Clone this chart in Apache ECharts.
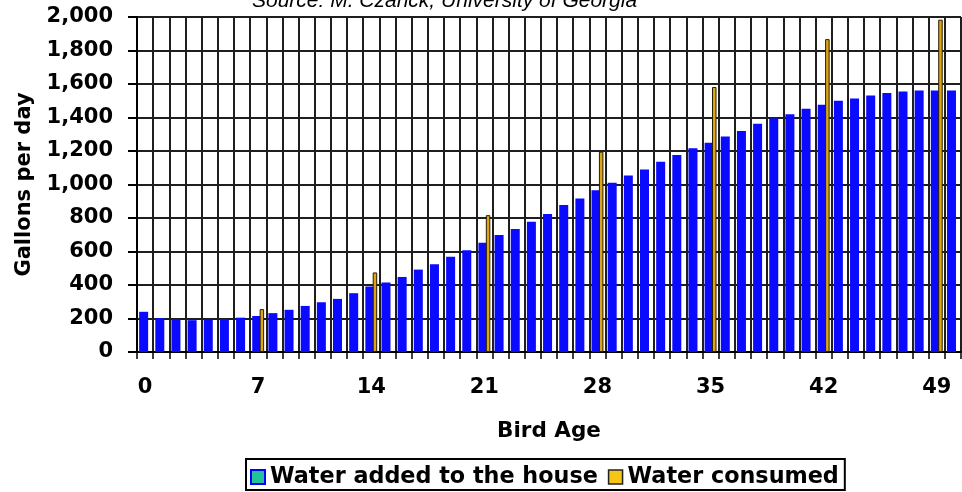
<!DOCTYPE html>
<html>
<head>
<meta charset="utf-8">
<script src="https://cdn.jsdelivr.net/npm/echarts@6/dist/echarts.min.js"></script>
<style>html,body{margin:0;padding:0;background:#fff}#c{width:962px;height:492px}</style>
</head>
<body>
<div id="c"></div>
<script>
var days = [];
for (var i = 0; i <= 50; i++) days.push(String(i));
var waterAdded = [240,202,196,190,192,196,205,215,232,252,275,297,317,351,391,415,448,492,524,568,608,652,698,734,778,824,877,917,965,1011,1054,1089,1136,1176,1216,1250,1286,1320,1362,1396,1420,1452,1476,1500,1513,1531,1547,1555,1561,1561,1561];
var consumedDays = [7,14,21,28,35,42,49];
var consumedValues = [256,475,817,1196,1582,1868,1984];
var yTicks = [0,200,400,600,800,1000,1200,1400,1600,1800,2000];

var consumed = days.map(function(){ return '-'; });
consumedDays.forEach(function(d, k){ consumed[d] = consumedValues[k]; });

var FONT = 'DejaVu Sans';
var chart = echarts.init(document.getElementById('c'));
chart.setOption({
  animation: false,
  backgroundColor: '#fff',
  title: {
    text: 'Source: M. Czarick, University of Georgia',
    left: 252, top: -9, padding: 0,
    textStyle: {fontFamily: 'Liberation Sans', fontStyle: 'italic', fontWeight: 'normal', fontSize: 21, color: '#000'}
  },
  legend: {
    left: 246, top: 459,
    padding: [7, 6, 2, 4],
    borderColor: '#000', borderWidth: 2, backgroundColor: '#fff',
    itemWidth: 14, itemHeight: 14, itemGap: 10,
    textStyle: {fontFamily: FONT, fontWeight: 'bold', fontSize: 22.3, color: '#000'},
    data: [
      {name: 'Water added to the house', icon: 'rect', itemStyle: {color: '#22c39b', borderColor: '#0000ff', borderWidth: 2}},
      {name: 'Water consumed', icon: 'rect', itemStyle: {color: '#f5c518', borderColor: '#222', borderWidth: 1.5}}
    ]
  },
  grid: {left: 137, right: 1, top: 17, bottom: 140, containLabel: false},
  xAxis: {
    type: 'category',
    data: days,
    name: 'Bird Age',
    nameLocation: 'middle',
    nameGap: 68,
    nameTextStyle: {fontFamily: FONT, fontWeight: 'bold', fontSize: 21.5, color: '#000'},
    axisLine: {show: true, lineStyle: {color: '#000', width: 2}},
    axisTick: {show: true, interval: 0, length: 7, lineStyle: {color: '#000', width: 1.5}},
    axisLabel: {interval: 6, margin: 25, fontFamily: FONT, fontWeight: 'bold', fontSize: 21, color: '#000'},
    splitLine: {show: true, interval: 0, lineStyle: {color: '#1e1e1e', width: 2}}
  },
  yAxis: {
    type: 'value',
    min: yTicks[0], max: yTicks[yTicks.length - 1], interval: 200,
    name: 'Gallons per day',
    nameLocation: 'middle',
    nameGap: 102,
    nameTextStyle: {fontFamily: FONT, fontWeight: 'bold', fontSize: 21, color: '#000'},
    axisLine: {show: true, lineStyle: {color: '#000', width: 2}},
    axisTick: {show: true, length: 9, lineStyle: {color: '#000', width: 2}},
    axisLabel: {
      margin: 24, fontFamily: FONT, fontWeight: 'bold', fontSize: 21, color: '#000',
      formatter: function(v){ return v.toLocaleString('en-US'); }
    },
    splitLine: {show: true, lineStyle: {color: '#1e1e1e', width: 2}}
  },
  series: [
    {
      name: 'Water added to the house', type: 'bar', data: waterAdded,
      barWidth: 9, barGap: '-18%',
      itemStyle: {color: '#0a0aff'}
    },
    {
      name: 'Water consumed', type: 'bar', data: consumed,
      barWidth: 4.5, barGap: '-18%',
      itemStyle: {color: '#dba514', borderColor: '#2a1e00', borderWidth: 1}
    }
  ]
});
</script>
</body>
</html>
